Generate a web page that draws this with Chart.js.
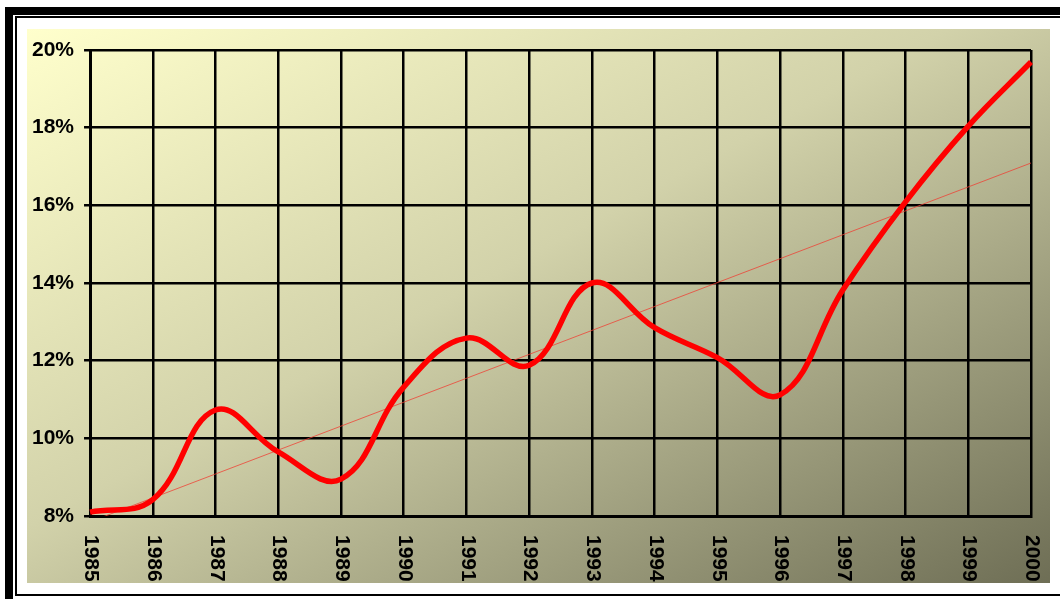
<!DOCTYPE html>
<html>
<head>
<meta charset="utf-8">
<script src="https://cdn.jsdelivr.net/npm/chart.js@4/dist/chart.umd.min.js"></script>
<style>
  html, body { margin: 0; padding: 0; background: #fff; overflow: hidden; }
  body { width: 1060px; height: 599px; position: relative; }
  #marcoExterior { position: absolute; left: 5px; top: 7px; width: 1200px; height: 700px; border: 8px solid #000; box-sizing: border-box; }
  #marcoInterior { position: absolute; left: 15px; top: 16px; width: 1200px; height: 580px; border: 2px solid #000; box-sizing: border-box; background: #fff; }
  #fondo { position: absolute; left: 27px; top: 29px; width: 1023px; height: 554px;
    background: linear-gradient(to bottom right, #ffffcc 0%, #d2d2aa 45%, #6e6e55 100%); }
  #grafico { position: absolute; left: 0; top: 0; }
</style>
</head>
<body>
<div id="marcoExterior"></div>
<div id="marcoInterior"></div>
<div id="fondo"></div>
<canvas id="grafico" width="1060" height="599"></canvas>
<script>
const anios = ["1985", "1986", "1987", "1988", "1989", "1990", "1991", "1992",
  "1993", "1994", "1995", "1996", "1997", "1998", "1999", "2000"];
const valores = [8.1, 8.42, 10.73, 9.65, 8.95, 11.32, 12.58, 11.88,
  14.0, 12.85, 12.08, 11.12, 13.82, 16.09, 18.04, 19.69];
// linea de tendencia: solo extremos, el resto se une con spanGaps
const tendencia = [7.85, null, null, null, null, null, null, null,
  null, null, null, null, null, null, null, 17.09];
const ticksY = [8, 10, 12, 14, 16, 18, 20];

const fuente = { family: "Arial, 'Liberation Sans', sans-serif", size: 21, weight: "bold" };

// etiquetas del eje x giradas 90 grados (se leen de arriba a abajo)
const etiquetasX = {
  id: "etiquetasX",
  afterDraw(chart) {
    const ctx = chart.ctx;
    const escala = chart.scales.x;
    ctx.save();
    ctx.font = "bold 21px Arial, 'Liberation Sans', sans-serif";
    ctx.fillStyle = "#000";
    ctx.textAlign = "left";
    ctx.textBaseline = "middle";
    anios.forEach((a, i) => {
      const x = escala.getPixelForValue(i);
      ctx.save();
      ctx.translate(x + 1, chart.chartArea.bottom + 19);
      ctx.rotate(Math.PI / 2);
      ctx.fillText(a, 0, 0);
      ctx.restore();
    });
    ctx.restore();
  }
};

new Chart(document.getElementById("grafico"), {
  type: "line",
  data: {
    labels: anios,
    datasets: [
      { data: valores, borderColor: "#ff0000", borderWidth: 5.5, tension: 0.4,
        pointRadius: 0, fill: false },
      { data: tendencia, borderColor: "rgba(240,60,50,0.75)", borderWidth: 1, tension: 0,
        pointRadius: 0, spanGaps: true, fill: false }
    ]
  },
  options: {
    responsive: false,
    animation: false,
    events: [],
    layout: { padding: { left: 22, top: 50, right: 29, bottom: 83 } },
    plugins: { legend: { display: false }, tooltip: { enabled: false } },
    scales: {
      x: {
        offset: false,
        grid: { color: "#000", lineWidth: 2.5, drawTicks: false },
        border: { color: "#000", width: 3 },
        ticks: { display: false }
      },
      y: {
        min: 8, max: 20,
        afterBuildTicks: (escala) => { escala.ticks = ticksY.map(v => ({ value: v })); },
        grid: { color: "#000", lineWidth: 2.5, tickLength: 6 },
        border: { color: "#000", width: 3 },
        ticks: { color: "#000", font: fuente, padding: 10, callback: (v) => v + "%" }
      }
    }
  },
  plugins: [etiquetasX]
});
</script>
</body>
</html>
